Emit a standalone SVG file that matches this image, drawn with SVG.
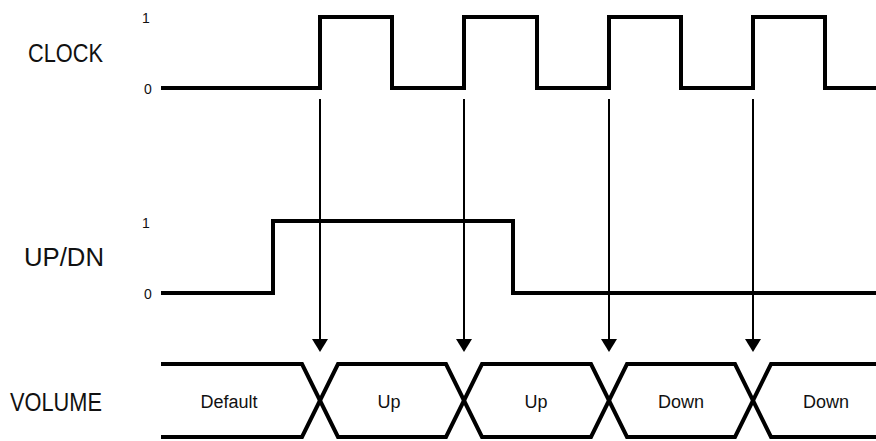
<svg xmlns="http://www.w3.org/2000/svg" width="876" height="441" viewBox="0 0 876 441">
<style>
.wave{fill:none;stroke:#000;stroke-width:4;stroke-linejoin:miter;stroke-linecap:butt}
.conn{fill:none;stroke:#000;stroke-width:2}
.sig{font-family:"Liberation Sans",Arial,sans-serif;font-size:25px;fill:#111}
.lvl{font-family:"Liberation Sans",Arial,sans-serif;font-size:14px;fill:#111}
.val{font-family:"Liberation Sans",Arial,sans-serif;font-size:18px;fill:#111;text-anchor:middle}
</style>
<defs>
<marker id="ah" markerUnits="userSpaceOnUse" markerWidth="14" markerHeight="16" viewBox="0 0 14 16" refX="1" refY="8" orient="auto">
<path d="M0,0 L13,8 L0,16 z" fill="#000"/>
</marker>
</defs>
<rect width="876" height="441" fill="#fff"/>
<g id="clock">
<text class="sig" x="28" y="62" textLength="75" lengthAdjust="spacingAndGlyphs">CLOCK</text>
<text class="lvl" x="142" y="23">1</text>
<text class="lvl" x="144" y="94">0</text>
<path class="wave" d="M161,88 H320 V17 H392 V88 H464 V17 H537 V88 H609 V17 H681 V88 H753 V17 H825 V88 H876"/>
</g>
<g id="updn">
<text class="sig" x="24" y="266" textLength="80" lengthAdjust="spacingAndGlyphs">UP/DN</text>
<text class="lvl" x="142" y="228">1</text>
<text class="lvl" x="144" y="299">0</text>
<path class="wave" d="M161,293 H273 V221 H513 V293 H876"/>
</g>
<g id="volume">
<text class="sig" x="10" y="411" textLength="92" lengthAdjust="spacingAndGlyphs">VOLUME</text>
<path class="wave" d="M161,364 H302 L338,437 H446 L482,364 H591 L627,437 H735 L771,364 H876"/>
<path class="wave" d="M161,437 H302 L338,364 H446 L482,437 H591 L627,364 H735 L771,437 H876"/>
<text class="val" x="229" y="408">Default</text>
<text class="val" x="389" y="408">Up</text>
<text class="val" x="536" y="408">Up</text>
<text class="val" x="681" y="408">Down</text>
<text class="val" x="826" y="408">Down</text>
</g>
<g id="connectors">
<line class="conn" x1="320" y1="99" x2="320" y2="340" marker-end="url(#ah)"/>
<line class="conn" x1="464" y1="99" x2="464" y2="340" marker-end="url(#ah)"/>
<line class="conn" x1="609" y1="99" x2="609" y2="340" marker-end="url(#ah)"/>
<line class="conn" x1="753" y1="99" x2="753" y2="340" marker-end="url(#ah)"/>
</g>
</svg>
